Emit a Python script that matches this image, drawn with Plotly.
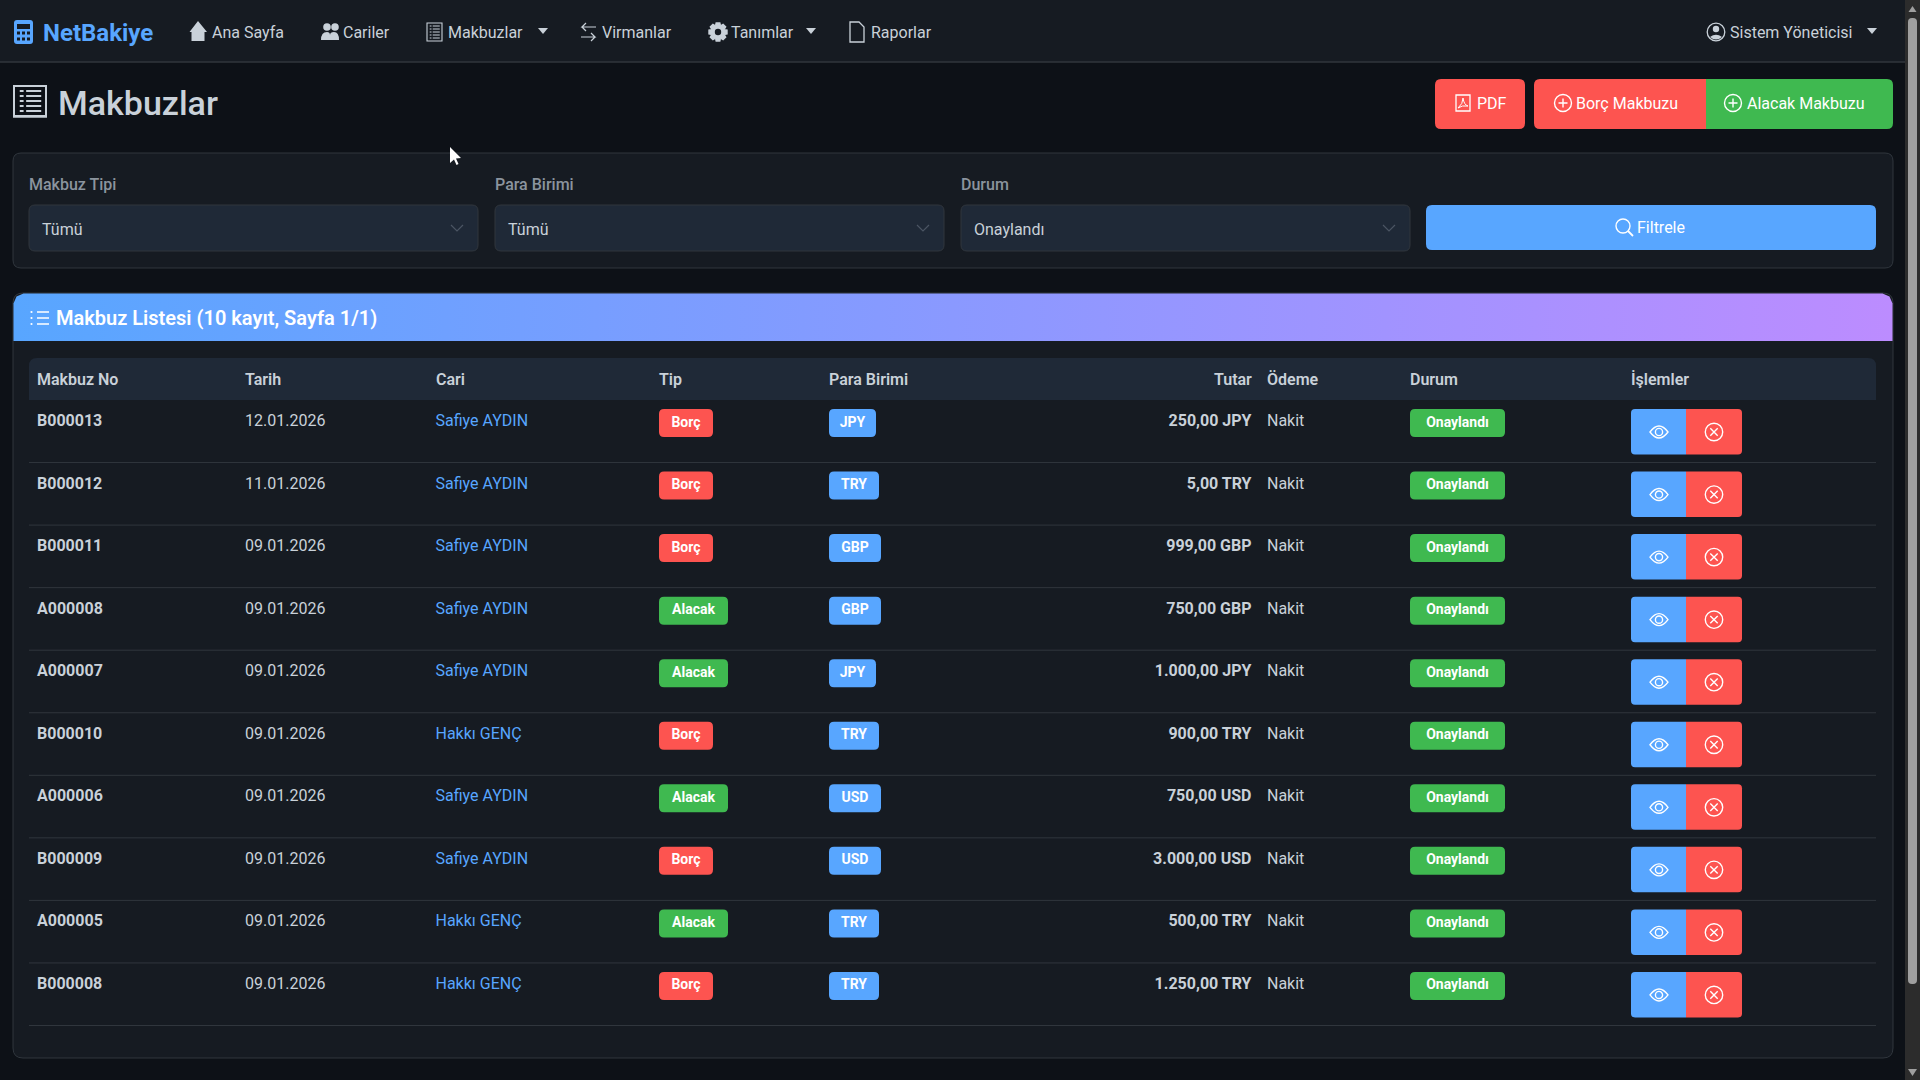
"""NetBakiye - Makbuzlar ekrani."""

import plotly.graph_objects as go

# === Veriler ===
makbuz_no = ["B000013", "B000012", "B000011", "A000008", "A000007",
             "B000010", "A000006", "B000009", "A000005", "B000008"]
tarih = ["12.01.2026", "11.01.2026", "09.01.2026", "09.01.2026", "09.01.2026",
         "09.01.2026", "09.01.2026", "09.01.2026", "09.01.2026", "09.01.2026"]
cari = ["Safiye AYDIN", "Safiye AYDIN", "Safiye AYDIN", "Safiye AYDIN", "Safiye AYDIN",
        "Hakkı GENÇ", "Safiye AYDIN", "Safiye AYDIN", "Hakkı GENÇ", "Hakkı GENÇ"]
tip = ["Borç", "Borç", "Borç", "Alacak", "Alacak",
       "Borç", "Alacak", "Borç", "Alacak", "Borç"]
para = ["JPY", "TRY", "GBP", "GBP", "JPY", "TRY", "USD", "USD", "TRY", "TRY"]
tutar = ["250,00 JPY", "5,00 TRY", "999,00 GBP", "750,00 GBP", "1.000,00 JPY",
         "900,00 TRY", "750,00 USD", "3.000,00 USD", "500,00 TRY", "1.250,00 TRY"]
odeme = ["Nakit"] * 10
durum = ["Onaylandı"] * 10
basliklar = ["Makbuz No", "Tarih", "Cari", "Tip", "Para Birimi", "Tutar", "Ödeme", "Durum", "İşlemler"]

# Renkler
BG = "#0d1117"
CARD = "#161b22"
INPUT = "#1f2937"
BORDER = "#30363d"
TEXT = "#c9d1d9"
MUTED = "#8b949e"
BLUE = "#58a6ff"
RED = "#fd5450"
GREEN = "#3fb950"
FONT = "Roboto"

shapes = []
annots = []


def rr(x0, y0, x1, y1, r=6, tl=True, tr=True, br=True, bl=True):
    p = f"M{x0 + (r if tl else 0)},{y0} L{x1 - (r if tr else 0)},{y0} "
    p += f"Q{x1},{y0} {x1},{y0 + r} " if tr else ""
    p += f"L{x1},{y1 - (r if br else 0)} "
    p += f"Q{x1},{y1} {x1 - r},{y1} " if br else ""
    p += f"L{x0 + (r if bl else 0)},{y1} "
    p += f"Q{x0},{y1} {x0},{y1 - r} " if bl else ""
    p += f"L{x0},{y0 + (r if tl else 0)} "
    p += f"Q{x0},{y0} {x0 + r},{y0} " if tl else ""
    return p + "Z"


def box(x0, y0, x1, y1, fill, r=6, line=None, layer="below", **corners):
    shapes.append(dict(type="path", path=rr(x0, y0, x1, y1, r, **corners), fillcolor=fill,
                       line=dict(color=line or fill, width=1 if line else 0), layer=layer))


def stroke(path, color="#ffffff", w=1.4, fill="rgba(0,0,0,0)"):
    shapes.append(dict(type="path", path=path, line=dict(color=color, width=w),
                       fillcolor=fill, layer="above"))


def solid(path, color):
    shapes.append(dict(type="path", path=path, line=dict(width=0), fillcolor=color, layer="above"))


def circle(cx, cy, r, color="#ffffff", w=1.4, fill="rgba(0,0,0,0)"):
    shapes.append(dict(type="circle", x0=cx - r, x1=cx + r, y0=cy - r, y1=cy + r,
                       line=dict(color=color, width=w), fillcolor=fill, layer="above"))


def label(x, y, text, size=16, color=TEXT, weight=400, anchor="left"):
    annots.append(dict(x=x, y=y, text=text, xref="x", yref="y", showarrow=False, xanchor=anchor,
                       yanchor="middle", borderpad=0, borderwidth=0,
                       font=dict(family=FONT, size=size, color=color, weight=weight)))


def caret(x, y):
    solid(f"M{x},{y - 3} L{x + 10},{y - 3} L{x + 5},{y + 3} Z", TEXT)


def chevron(x, y):
    stroke(f"M{x},{y - 3} L{x + 6},{y + 3} L{x + 12},{y - 3}", "#4b5563", 1.2)


def ic_plus(cx, cy):
    circle(cx, cy, 8.5)
    stroke(f"M{cx - 4.5},{cy} L{cx + 4.5},{cy} M{cx},{cy - 4.5} L{cx},{cy + 4.5}")


def ic_x(cx, cy):
    circle(cx, cy, 8.7)
    stroke(f"M{cx - 3.7},{cy - 3.7} L{cx + 3.7},{cy + 3.7} M{cx + 3.7},{cy - 3.7} L{cx - 3.7},{cy + 3.7}")


def ic_eye(cx, cy):
    stroke(f"M{cx - 9},{cy} Q{cx},{cy - 12} {cx + 9},{cy} Q{cx},{cy + 12} {cx - 9},{cy} Z")
    circle(cx, cy, 3.6)


def ic_receipt(x0, y0, x1, y1, color=TEXT, w=1.4):
    stroke(f"M{x0},{y0} L{x1},{y0} L{x1},{y1} L{x0},{y1} Z", color, w)
    n = 5
    dy = (y1 - y0) / (n + 1)
    for i in range(1, n + 1):
        y = y0 + i * dy
        stroke(f"M{x0 + (x1 - x0) * .18},{y} L{x0 + (x1 - x0) * .3},{y} "
               f"M{x0 + (x1 - x0) * .38},{y} L{x1 - (x1 - x0) * .15},{y}", color, w)


# === Fond et barre de navigation ===
box(0, 0, 1905, 62, CARD, r=0)
shapes.append(dict(type="line", x0=0, x1=1905, y0=62, y1=62, line=dict(color=BORDER, width=1.5), layer="below"))

# calculatrice
box(14, 20, 33, 44, BLUE, r=3, layer="above")
box(17, 24, 30, 29, CARD, r=0, layer="above")
for cx in (18.5, 23.5, 28.5):
    for cy in (33, 39):
        box(cx - 1.5, cy - 1.5, cx + 1.5, cy + 1.5, CARD, r=0, layer="above")
label(43, 33, "NetBakiye", 24, BLUE, 700)

solid("M198,21 L207,32 L204.5,32 L204.5,41 L191.5,41 L191.5,32 L189.5,32 Z", TEXT)
label(212, 32, "Ana Sayfa")
circle(327, 27, 3.8, TEXT, 0, TEXT)
circle(335, 27, 3.8, TEXT, 0, TEXT)
solid("M321,40 Q321,32 327,32 Q330,32 330,35 Q330,32 334,32 Q339,32 339,40 Z", TEXT)
label(343, 32, "Cariler")
ic_receipt(427, 23, 442, 41, TEXT, 1.1)
label(448, 32, "Makbuzlar")
caret(538, 31)
stroke("M596,27 L582,27 L586,23 M582,27 L586,31 M581,37 L595,37 L591,33 M595,37 L591,41", TEXT, 1.2)
label(602, 32, "Virmanlar")
teeth = []
for i in range(8):
    import math
    for da, rad in ((-0.24, 10), (0.24, 10), (0.42, 7.5), (math.pi / 4 - 0.42, 7.5)):
        a = i * math.pi / 4 + da
        teeth.append(f"{718 + rad * math.sin(a):.2f},{32 - rad * math.cos(a):.2f}")
solid("M" + " L".join(teeth) + " Z", TEXT)
circle(718, 32, 3.2, CARD, 0, CARD)
label(731, 32, "Tanımlar")
caret(806, 31)
stroke("M850,22 L859,22 L864,27 L864,42 L850,42 Z", TEXT, 1.3)
solid("M853,37 h2 v3 h-2 Z M856,34 h2 v6 h-2 Z M859,31 h2 v9 h-2 Z", TEXT)
label(871, 32, "Raporlar")
circle(1716, 32, 8.8, TEXT, 1.3)
circle(1716, 29, 3.2, TEXT, 0, TEXT)
solid("M1710,37 Q1716,32.5 1722,37 Q1716,42 1710,37 Z", TEXT)
label(1730, 32, "Sistem Yöneticisi")
caret(1867, 31)

# === Titre et boutons ===
ic_receipt(14, 86, 46, 116, TEXT, 2)
stroke("M13,117 L47,117", TEXT, 1.5)
label(58, 103, "Makbuzlar", 34, TEXT, 500)

box(1435, 79, 1525, 129, RED, r=6)
stroke("M1456,95 L1470,95 L1470,111 L1456,111 Z", w=1.3)
stroke("M1458,108 Q1463,104 1463,98 Q1464,105 1468,106 Q1462,105 1458,108 Z", w=1)
label(1477, 103, "PDF", 16, "#ffffff")
box(1534, 79, 1706, 129, RED, r=6, tr=False, br=False)
ic_plus(1563, 103)
label(1576, 103, "Borç Makbuzu", 16, "#ffffff")
box(1706, 79, 1893, 129, GREEN, r=6, tl=False, bl=False)
ic_plus(1733, 103)
label(1747, 103, "Alacak Makbuzu", 16, "#ffffff")

# === Filtres ===
box(13, 153, 1893, 268, CARD, r=8, line=BORDER)
for x0, lab, val in ((29, "Makbuz Tipi", "Tümü"), (495, "Para Birimi", "Tümü"), (961, "Durum", "Onaylandı")):
    label(x0, 184, lab, 16, MUTED, 500)
    box(x0, 205, x0 + 449, 251, INPUT, r=6, line=BORDER)
    label(x0 + 13, 229, val)
    chevron(x0 + 422, 228)
box(1426, 205, 1876, 250, BLUE, r=6)
circle(1623, 226, 7)
stroke("M1628,231 L1633,236", w=1.8)
label(1637, 227, "Filtrele", 16, "#ffffff")

# === Carte liste ===
box(13, 293, 1893, 1058, CARD, r=10, line=BORDER)
box(29, 358, 1876, 400, INPUT, r=8, br=False, bl=False)
for cy in (312, 318, 324):
    circle(31.5, cy, 1.1, "#ffffff", 0, "#ffffff")
stroke("M37,312 L49,312 M37,318 L49,318 M37,324 L49,324", w=1.5)
label(56, 318, "Makbuz Listesi (10 kayıt, Sayfa 1/1)", 20, "#ffffff", 600)

COL_X = [37, 245, 435.5, 659, 829, 1251.5, 1267, 1410, 1631]
for x, h in zip(COL_X, basliklar):
    label(x, 379, h, 16, TEXT, 600, "right" if h == "Tutar" else "left")

ROW0 = 400
ROW_H = 62.55
satirlar = list(range(len(makbuz_no)))
top = [ROW0 + i * ROW_H for i in satirlar]

TIP_RENK = {"Borç": RED, "Alacak": GREEN}
TIP_W = {"Borç": 54, "Alacak": 69}
PARA_W = {"JPY": 47, "TRY": 50, "GBP": 52, "USD": 52}

for i, t in zip(satirlar, top):
    shapes.append(dict(type="line", x0=29, x1=1876, y0=t + ROW_H, y1=t + ROW_H,
                       line=dict(color=BORDER, width=1), layer="below"))
    box(659, t + 9, 659 + TIP_W[tip[i]], t + 37, TIP_RENK[tip[i]], r=5)
    box(829, t + 9, 829 + PARA_W[para[i]], t + 37, BLUE, r=5)
    box(1410, t + 9, 1505, t + 37, GREEN, r=5)
    box(1631, t + 9, 1686, t + 54.5, BLUE, r=4, tr=False, br=False)
    box(1686, t + 9, 1742, t + 54.5, RED, r=4, tl=False, bl=False)
    ic_eye(1659, t + 32)
    ic_x(1714, t + 32)


def metin(x, y, text, color, weight=400, pos="middle right", size=16):
    return go.Scatter(x=x, y=y, text=text, mode="text", textposition=pos, cliponaxis=False,
                      hoverinfo="skip", showlegend=False,
                      textfont=dict(family=FONT, size=size, color=color, weight=weight))


metin_y = [t + 22 for t in top]
rozet_y = [t + 23 for t in top]
traces = [
    metin([COL_X[0]] * 10, metin_y, makbuz_no, TEXT, 700),
    metin([COL_X[1]] * 10, metin_y, tarih, TEXT),
    metin([COL_X[2]] * 10, metin_y, cari, BLUE),
    metin([659 + TIP_W[v] / 2 for v in tip], rozet_y, tip, "#ffffff", 700, "middle center", 14),
    metin([829 + PARA_W[v] / 2 for v in para], rozet_y, para, "#ffffff", 700, "middle center", 14),
    metin([COL_X[5]] * 10, metin_y, tutar, TEXT, 700, "middle left"),
    metin([COL_X[6]] * 10, metin_y, odeme, TEXT),
    metin([1457.5] * 10, rozet_y, durum, "#ffffff", 700, "middle center", 14),
]

# === Degrade de l'en-tete ===
cx0, cx1, cy0, cy1, r = 13.5, 1892.5, 293.5, 341, 10
hx = [cx0, cx0, cx0 + 3, cx0 + r, cx1 - r, cx1 - 3, cx1, cx1, cx0]
hy = [cy1, cy0 + r, cy0 + 3, cy0, cy0, cy0 + 3, cy0 + r, cy1, cy1]
traces.insert(0, go.Scatter(x=hx, y=hy, mode="lines", line=dict(width=0), fill="toself", hoverinfo="skip",
                            showlegend=False,
                            fillgradient=dict(type="horizontal", colorscale=[[0, BLUE], [1, "#bc8cff"]])))

# === Barre de defilement et curseur ===
box(1905, 0, 1920, 1080, "#2c2c2c", r=0, layer="above")
box(1908, 18, 1917, 984, "#9f9f9f", r=4, layer="above")
solid("M1912.5,6 L1916.5,12 L1908.5,12 Z", "#9f9f9f")
solid("M1908,1069 L1917,1069 L1912.5,1076 Z", "#9f9f9f")
solid("M450,147 L450,163 L454,159.5 L456.5,165 L458.5,164 L456,158.5 L461,158 Z", "#ffffff")

fig = go.Figure(traces)
fig.update_layout(width=1920, height=1080, margin=dict(l=0, r=0, t=0, b=0), paper_bgcolor=BG, plot_bgcolor=BG,
                  xaxis=dict(range=[0, 1920], visible=False, fixedrange=True),
                  yaxis=dict(range=[1080, 0], visible=False, fixedrange=True),
                  shapes=shapes, annotations=annots, hovermode=False, showlegend=False)
fig.write_html("out.html", config=dict(displayModeBar=False),
               post_script="document.body.style.margin='0';document.body.style.overflow='hidden';")
